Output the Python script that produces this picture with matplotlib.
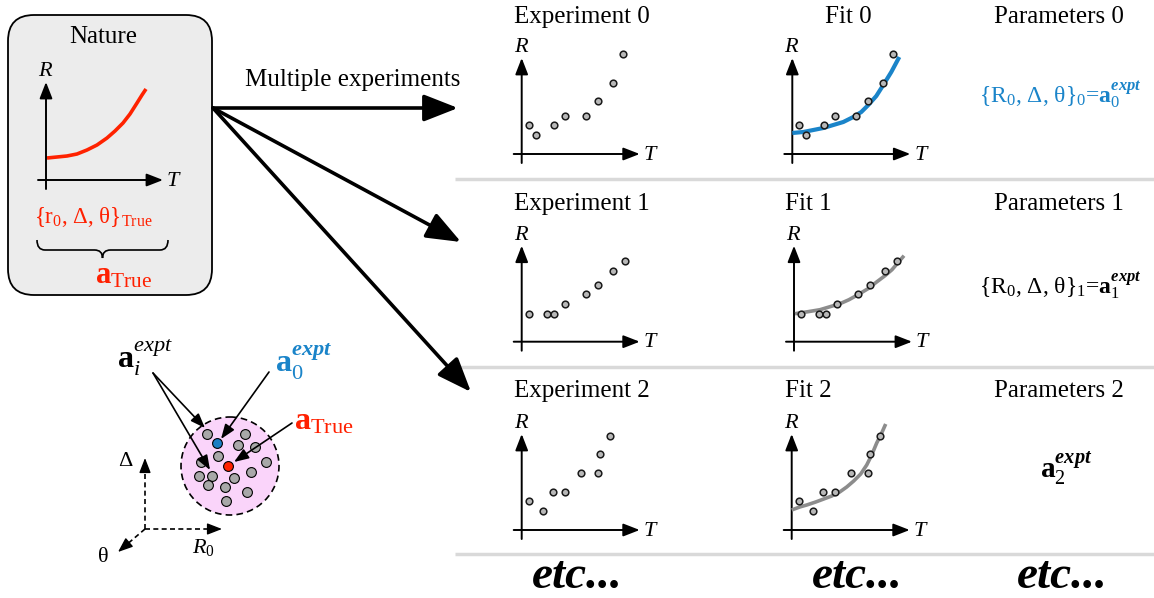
import matplotlib
matplotlib.use("Agg")
import matplotlib.pyplot as plt
from matplotlib.patches import FancyBboxPatch, Circle, FancyArrowPatch, PathPatch
from matplotlib.path import Path

plt.rcParams['font.family'] = ['Liberation Serif', 'DejaVu Serif']
plt.rcParams['mathtext.fontset'] = 'custom'
plt.rcParams['mathtext.rm'] = 'Liberation Serif'
plt.rcParams['mathtext.it'] = 'Liberation Serif:italic'
plt.rcParams['mathtext.bf'] = 'Liberation Serif:bold'
try:
    plt.rcParams['mathtext.bfit'] = 'Liberation Serif:bold:italic'
except KeyError:
    pass

# ---------------- data ----------------
row_titles_exp = ["Experiment 0", "Experiment 1", "Experiment 2"]
row_titles_fit = ["Fit 0", "Fit 1", "Fit 2"]
row_titles_par = ["Parameters 0", "Parameters 1", "Parameters 2"]

exp0_T = [7, 14, 32, 43, 64, 76, 91, 101]
exp0_R = [29, 19, 29, 38, 38, 53, 71, 100]
exp1_T = [7, 25, 32, 43, 64, 76, 91, 103]
exp1_R = [28, 28, 28, 38, 48, 57, 71, 81]
exp2_T = [7, 21, 31, 43, 59, 76, 78, 88]
exp2_R = [29, 19, 38, 38, 57, 57, 76, 94]

fit0_T = [0, 11, 21, 31, 41, 51, 61, 69, 76, 84, 91, 99, 107]
fit0_R = [21, 22, 24, 26, 29, 32, 37, 42, 49, 58, 69, 82, 97]
fit1_T = [1, 14, 26, 36, 46, 55, 64, 74, 83, 91, 98, 104, 110]
fit1_R = [28, 30, 32, 35, 38, 42, 47, 53, 60, 66, 72, 79, 86]
fit2_T = [0, 8, 15, 24, 32, 40, 48, 55, 62, 69, 75, 80, 85, 90, 94]
fit2_R = [20, 23, 25, 28, 31, 34, 38, 43, 49, 56, 65, 75, 87, 97, 106]

true_T = [1, 11, 21, 31, 41, 51, 61, 69, 77, 84, 91, 96, 100]
true_R = [22, 23, 24, 26, 30, 35, 42, 49, 57, 66, 77, 85, 91]

# parameter-space cloud (offsets from cluster centre, y up)
cloud_x = [-23, 15, 8, 25, -12, -29, 36, 21, -31, -18, 4, -22, -5, 17, -4]
cloud_y = [32, 32, 21, 19, 10, 4, 4, -6, -10, -10, -12, -19, -21, -26, -35]
cloud0_x, cloud0_y = [-13], [23]
true_x, true_y = [-2], [0]

etc_label = "etc..."

# ---------------- figure ----------------
W, H = 1154, 598
fig = plt.figure(figsize=(W / 100, H / 100), dpi=100)
ax = fig.add_axes([0, 0, 1, 1])
ax.set_xlim(0, W)
ax.set_ylim(H, 0)
ax.axis('off')

BLUE = '#1a84c9'
RED = '#ff2000'
GRAYC = '#8c8c8c'
SEP = '#d9d9d9'

# Nature box
ax.add_patch(FancyBboxPatch((8, 15), 204, 280, boxstyle='round,pad=0,rounding_size=26',
                            facecolor='#ececec', edgecolor='black', lw=1.3, zorder=1))
ax.text(103, 37, "Nature", ha='center', va='center', fontsize=18, zorder=3)
ax.text(34, 223, r"{r$_0$, Δ, θ}$_{\mathrm{True}}$", color=RED, fontsize=16.5,
        ha='left', va='baseline', zorder=3)
# brace
x0b, x1b, xm, yt, yb, ytip = 37, 168, 102.5, 240, 250, 258
verts = [(x0b, yt), (x0b, yb), (x0b + 8, yb), (xm - 8, yb), (xm, yb), (xm, ytip),
         (xm, yb), (xm + 8, yb), (x1b - 8, yb), (x1b, yb), (x1b, yt)]
codes = [Path.MOVETO, Path.CURVE3, Path.CURVE3, Path.LINETO, Path.CURVE3, Path.CURVE3,
         Path.CURVE3, Path.CURVE3, Path.LINETO, Path.CURVE3, Path.CURVE3]
ax.add_patch(PathPatch(Path(verts, codes), fill=False, lw=1.2, edgecolor='black', zorder=3))
ax.text(95, 283, r"$\mathbf{a}_{\mathrm{True}}$", color=RED, fontsize=22,
        ha='left', va='baseline', zorder=3)

# big arrows
start = (213, 108)
for end in [(458, 108), (461, 242), (471, 392)]:
    ax.add_patch(FancyArrowPatch(start, end, arrowstyle='-|>,head_length=1.4,head_width=0.55',
                                 mutation_scale=15, lw=2.6, color='black',
                                 shrinkA=0, shrinkB=0, zorder=4))
ax.text(353, 80, "Multiple experiments", ha='center', va='center', fontsize=18)

# separators
for ys in [179, 367, 554]:
    ax.plot([455, W], [ys, ys], color=SEP, lw=2.5, solid_capstyle='butt')

# titles
row_y = [17, 204, 391]
fit_x = [848, 808, 808]
for i in range(3):
    ax.text(582, row_y[i], row_titles_exp[i], ha='center', va='center', fontsize=18)
    ax.text(fit_x[i], row_y[i], row_titles_fit[i], ha='center', va='center', fontsize=18)
    ax.text(1059, row_y[i], row_titles_par[i], ha='center', va='center', fontsize=18)

# parameter texts
ax.text(1060, 95, r"{R$_0$, Δ, θ}$_0$=$\mathbf{a}_0^{\mathbfit{expt}}$", color=BLUE,
        ha='center', va='center', fontsize=17)
ax.text(1060, 286, r"{R$_0$, Δ, θ}$_1$=$\mathbf{a}_1^{\mathbfit{expt}}$", color='black',
        ha='center', va='center', fontsize=17)
ax.text(1066, 468, r"$\mathbf{a}_2^{\mathbfit{expt}}$", color='black',
        ha='center', va='center', fontsize=21)

for xe in [577, 857, 1062]:
    ax.text(xe, 577, etc_label, ha='center', va='center', fontsize=34,
            fontweight='bold', fontstyle='italic')

# parameter-space cluster
cx, cy = 230, 466
ax.add_patch(Circle((cx, cy), 49, facecolor='#fad4fa', edgecolor='black', lw=1.2,
                    linestyle=(0, (4, 2.5)), zorder=2))
ax.scatter([cx + v for v in cloud_x], [cy - v for v in cloud_y], s=50,
           facecolor='#a8a8a8', edgecolor='black', lw=0.8, zorder=3)
ax.scatter([cx + v for v in cloud0_x], [cy - v for v in cloud0_y], s=50,
           facecolor='#1a7fc4', edgecolor='black', lw=0.8, zorder=3)
ax.scatter([cx + v for v in true_x], [cy - v for v in true_y], s=50,
           facecolor='#ff2200', edgecolor='black', lw=0.8, zorder=3)


def thin_arrow(p0, p1, lw=1.2, ms=11):
    ax.add_patch(FancyArrowPatch(p0, p1, arrowstyle='-|>,head_length=0.8,head_width=0.3',
                                 mutation_scale=ms, lw=lw, color='black',
                                 shrinkA=0, shrinkB=0, zorder=5))


thin_arrow((153, 373), (205, 428))
thin_arrow((153, 373), (210, 470))
thin_arrow((269, 372), (221, 439))
thin_arrow((292, 423), (234, 462))

ax.text(117, 369, r"$\mathbf{a}_{\mathit{i}}^{\mathit{expt}}$", fontsize=23,
        ha='left', va='baseline')
ax.text(275, 373, r"$\mathbf{a}_0^{\mathbfit{expt}}$", fontsize=23, color=BLUE,
        ha='left', va='baseline')
ax.text(294, 430, r"$\mathbf{a}_{\mathrm{True}}$", fontsize=23, color=RED,
        ha='left', va='baseline')

# 3D dashed axes
o3 = (145, 529)
for end, back in [((145, 458), (145, 468)), ((222, 529), (212, 529)), ((118, 552), (125.6, 545.5))]:
    ax.plot([o3[0], back[0]], [o3[1], back[1]], color='black', lw=1.2, ls=(0, (3, 2)))
    ax.add_patch(FancyArrowPatch(back, end, arrowstyle='-|>,head_length=0.9,head_width=0.35',
                                 mutation_scale=10, lw=1.0, color='black',
                                 shrinkA=0, shrinkB=0))
ax.text(125, 462, "Δ", ha='center', va='center', fontsize=16)
ax.text(203, 547, r"$\mathit{R_0}$", ha='center', va='center', fontsize=16)
ax.text(103, 558, "θ", ha='center', va='center', fontsize=16)


# ---------------- mini plots ----------------
def mini_axes(ox, oy, xtip=118, ytip=96):
    l, r, b, t = -20, 140, -20, 120
    a = fig.add_axes([(ox + l) / W, (H - (oy - b)) / H, (r - l) / W, (t - b) / H])
    a.set_xlim(l, r)
    a.set_ylim(b, t)
    a.axis('off')
    a.patch.set_alpha(0)
    props = dict(arrowstyle='-|>,head_length=0.9,head_width=0.35', mutation_scale=11,
                 lw=1.4, color='black', shrinkA=0, shrinkB=0)
    a.annotate('', xy=(xtip, 0), xytext=(-8, 0), arrowprops=props)
    a.annotate('', xy=(0, ytip), xytext=(0, -9), arrowprops=props)
    a.text(xtip + 10, -1, 'T', fontstyle='italic', fontsize=16, ha='center', va='center')
    a.text(-1, ytip + 10, 'R', fontstyle='italic', fontsize=16, ha='center', va='center')
    return a


def dots(a, T, R):
    a.plot(T, R, 'o', ms=4.8, mfc='#b8b8b8', mec='#1a1a1a', mew=1.1, ls='none',
           zorder=5, clip_on=False)


na = mini_axes(46, 180, xtip=117, ytip=98)
na.plot(true_T, true_R, color='#ff2200', lw=2.6, solid_capstyle='butt',
        solid_joinstyle='round', clip_on=False)

exp_origins = [(521.7, 154), (521.7, 341.7), (521.7, 530)]
fit_origins = [(792.3, 154), (794, 341.7), (791.7, 530)]
exp_data = [(exp0_T, exp0_R), (exp1_T, exp1_R), (exp2_T, exp2_R)]
fit_data = [(fit0_T, fit0_R), (fit1_T, fit1_R), (fit2_T, fit2_R)]
fit_colors = [BLUE, GRAYC, GRAYC]
fit_lw = [3.0, 2.6, 2.6]

for i in range(3):
    ea = mini_axes(*exp_origins[i])
    dots(ea, *exp_data[i])
    fa = mini_axes(*fit_origins[i])
    fa.plot(*fit_data[i], color=fit_colors[i], lw=fit_lw[i], solid_capstyle='butt',
            solid_joinstyle='round', zorder=3, clip_on=False)
    dots(fa, *exp_data[i])

fig.savefig('out.png', dpi=100)
